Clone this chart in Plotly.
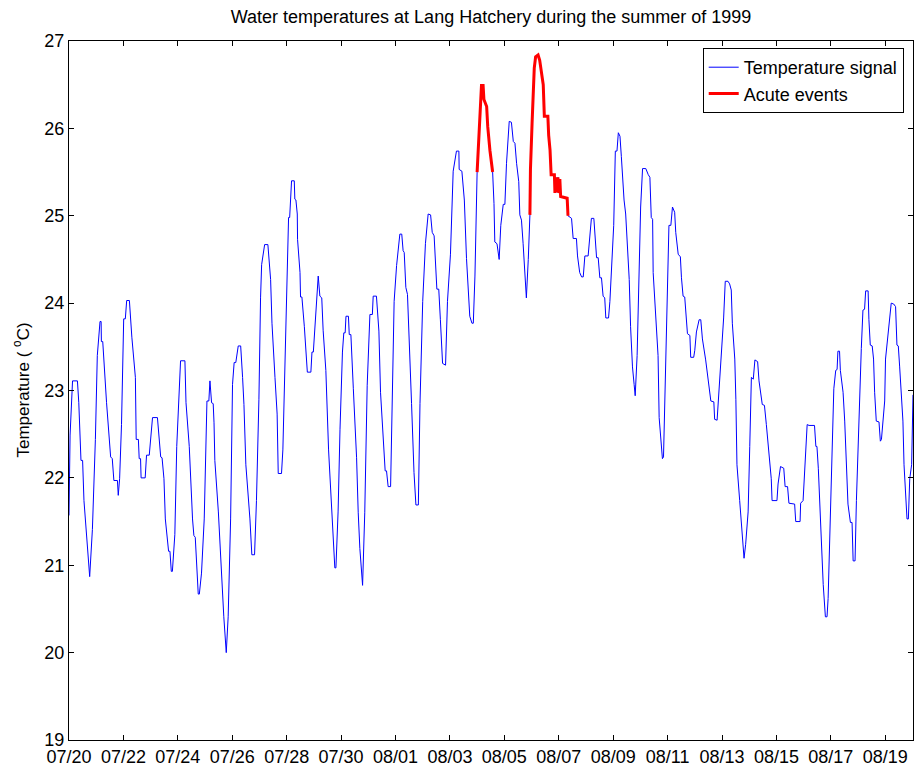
import plotly.graph_objs as go
import pandas as pd

# day offsets from 1999-07-20 00:00 and water temperature (deg C)
days = [
    0.00, 0.04, 0.13, 0.31, 0.36, 0.38, 0.44, 0.50, 0.55, 0.76, 0.86, 0.97, 1.04, 1.14, 1.18, 1.19, 1.24,
    1.38, 1.53, 1.59, 1.65, 1.78, 1.81, 1.86, 1.93, 2.01, 2.07, 2.12, 2.22, 2.31, 2.44, 2.47, 2.55, 2.58,
    2.63, 2.65, 2.80, 2.85, 2.95, 3.07, 3.25, 3.37, 3.42, 3.49, 3.54, 3.66, 3.71, 3.76, 3.80, 3.89, 3.96,
    4.10, 4.26, 4.30, 4.42, 4.54, 4.59, 4.64, 4.75, 4.79, 4.87, 4.97, 5.07, 5.14, 5.18, 5.24, 5.30, 5.33,
    5.36, 5.49, 5.61, 5.69, 5.78, 5.85, 5.94, 6.01, 6.07, 6.13, 6.22, 6.31, 6.38, 6.43, 6.50, 6.60, 6.65,
    6.72, 6.82, 6.89, 6.98, 7.04, 7.08, 7.19, 7.31, 7.41, 7.46, 7.57, 7.65, 7.69, 7.81, 7.86, 7.96, 8.02,
    8.07, 8.11, 8.18, 8.28, 8.30, 8.34, 8.39, 8.40, 8.49, 8.51, 8.56, 8.65, 8.76, 8.89, 8.93, 8.98, 9.06,
    9.16, 9.22, 9.29, 9.34, 9.44, 9.54, 9.65, 9.71, 9.77, 9.81, 9.89, 9.96, 10.05, 10.10, 10.15, 10.18,
    10.27, 10.30, 10.36, 10.45, 10.57, 10.63, 10.69, 10.79, 10.87, 10.96, 11.06, 11.15, 11.18, 11.30,
    11.39, 11.45, 11.55, 11.62, 11.67, 11.73, 11.82, 11.88, 11.95, 12.04, 12.10, 12.16, 12.23, 12.28,
    12.32, 12.38, 12.44, 12.51, 12.59, 12.68, 12.75, 12.84, 12.90, 13.00, 13.10, 13.20, 13.29, 13.35,
    13.42, 13.52, 13.59, 13.65, 13.73, 13.84, 13.91, 14.02, 14.12, 14.24, 14.33, 14.34, 14.44, 14.53,
    14.61, 14.73, 14.81, 14.86, 14.92, 15.00, 15.10, 15.16, 15.22, 15.25, 15.35, 15.39, 15.47, 15.57,
    15.62, 15.65, 15.73, 15.81, 15.87, 15.96, 16.02, 16.08, 16.18, 16.26, 16.33, 16.39, 16.45, 16.53,
    16.57, 16.63, 16.69, 16.78, 16.81, 16.88, 16.94, 16.96, 17.02, 17.06, 17.10, 17.15, 17.24, 17.30,
    17.36, 17.43, 17.47, 17.60, 17.63, 17.68, 17.72, 17.84, 17.86, 17.89, 17.93, 17.97, 18.00, 18.04,
    18.07, 18.31, 18.34, 18.47, 18.53, 18.65, 18.69, 18.77, 18.84, 18.90, 18.96, 19.08, 19.20, 19.29,
    19.39, 19.45, 19.51, 19.57, 19.63, 19.69, 19.73, 19.83, 19.88, 19.96, 20.02, 20.08, 20.14, 20.19,
    20.25, 20.30, 20.34, 20.40, 20.46, 20.51, 20.59, 20.64, 20.71, 20.77, 20.81, 20.88, 20.95, 21.01,
    21.08, 21.20, 21.29, 21.35, 21.40, 21.45, 21.47, 21.53, 21.59, 21.65, 21.69, 21.75, 21.81, 21.85,
    21.90, 21.98, 22.05, 22.12, 22.18, 22.26, 22.30, 22.39, 22.47, 22.51, 22.57, 22.63, 22.67, 22.73,
    22.82, 22.85, 22.96, 23.00, 23.06, 23.16, 23.22, 23.28, 23.40, 23.50, 23.59, 23.70, 23.73, 23.82,
    23.87, 23.98, 24.06, 24.12, 24.22, 24.28, 24.34, 24.38, 24.47, 24.51, 24.55, 24.65, 24.74, 24.81,
    24.87, 24.96, 25.02, 25.08, 25.15, 25.21, 25.31, 25.36, 25.48, 25.56, 25.63, 25.69, 25.81, 25.84,
    26.02, 26.06, 26.15, 26.27, 26.32, 26.41, 26.46, 26.67, 26.71, 26.87, 26.89, 26.98, 27.05, 27.13,
    27.20, 27.40, 27.45, 27.49, 27.54, 27.59, 27.64, 27.72, 27.80, 27.86, 27.90, 27.96, 28.03, 28.11,
    28.18, 28.23, 28.26, 28.32, 28.35, 28.45, 28.51, 28.57, 28.63, 28.72, 28.78, 28.82, 28.89, 28.94,
    29.00, 29.06, 29.12, 29.18, 29.24, 29.28, 29.37, 29.40, 29.45, 29.52, 29.57, 29.61, 29.67, 29.77,
    29.82, 29.86, 29.92, 29.98, 30.01, 30.08, 30.14, 30.22, 30.31, 30.38, 30.43, 30.48, 30.53, 30.59,
    30.65, 30.69, 30.75, 30.80, 30.85, 30.90, 30.97, 31.02,
]
temps = [
    21.57, 22.49, 23.11, 23.11, 22.86, 22.61, 22.20, 22.20, 21.74, 20.87, 21.41, 22.44, 23.40, 23.79, 23.79, 23.56, 23.56,
    22.86, 22.24, 22.22, 21.97, 21.97, 21.80, 21.99, 22.61, 23.82, 23.82, 24.03, 24.03, 23.61, 23.15, 22.44, 22.44, 22.22,
    22.22, 22.00, 22.00, 22.26, 22.26, 22.69, 22.69, 22.24, 22.23, 21.99, 21.53, 21.16, 21.16, 20.93, 20.93, 21.35, 22.36,
    23.34, 23.34, 22.86, 22.36, 21.53, 21.34, 21.32, 20.67, 20.67, 20.91, 21.53, 22.88, 22.88, 23.11, 22.86, 22.85, 22.63,
    22.20, 21.61, 20.83, 20.41, 20.00, 20.41, 21.53, 23.07, 23.32, 23.32, 23.51, 23.51, 23.15, 22.84, 22.15, 21.78, 21.53,
    21.12, 21.12, 21.74, 22.90, 24.06, 24.44, 24.67, 24.67, 24.27, 23.77, 23.15, 22.73, 22.05, 22.05, 22.32, 23.61, 24.31,
    24.98, 24.98, 25.40, 25.40, 25.19, 25.18, 25.02, 24.73, 24.35, 24.07, 24.07, 23.73, 23.21, 23.21, 23.44, 23.44, 23.85,
    24.31, 24.08, 24.06, 23.69, 23.23, 22.32, 21.74, 21.39, 20.97, 20.97, 21.61, 22.55, 23.44, 23.66, 23.66, 23.85,
    23.85, 23.64, 23.64, 23.02, 22.23, 21.60, 21.19, 20.77, 21.60, 23.06, 23.87, 23.87, 24.08, 24.08,
    23.68, 22.98, 22.44, 22.08, 22.08, 21.90, 21.90, 22.89, 24.02, 24.43, 24.62, 24.79, 24.79, 24.60,
    24.58, 24.18, 24.10, 23.60, 22.85, 22.06, 21.69, 21.69, 22.85, 24.02, 24.68, 25.02, 25.01, 24.81,
    24.77, 24.16, 24.16, 23.81, 23.31, 23.29, 24.02, 24.56, 25.51, 25.74, 25.74, 25.53, 25.51, 25.18,
    24.51, 23.85, 23.77, 23.77, 24.31, 25.50, 26.06, 26.49, 26.49, 26.33, 26.25, 26.02, 25.75, 25.50,
    25.14, 24.70, 24.68, 24.50, 24.89, 25.13, 25.13, 25.60, 26.08, 26.07, 25.85, 25.83, 25.60, 25.39,
    25.01, 24.95, 24.68, 24.10, 24.06, 24.50, 25.01, 25.53, 26.06, 26.48, 26.69, 26.82, 26.84, 26.78,
    26.64, 26.50, 26.14, 26.14, 25.92, 25.75, 25.47, 25.47, 25.26, 25.44, 25.27, 25.44, 25.26, 25.42,
    25.22, 25.20, 25.00, 24.97, 24.74, 24.74, 24.54, 24.35, 24.30, 24.30, 24.54, 24.54, 24.97, 24.97,
    24.52, 24.52, 24.29, 24.29, 24.08, 24.06, 23.83, 23.83, 24.02, 24.52, 24.89, 25.74, 25.74, 25.95,
    25.91, 25.68, 25.47, 25.18, 25.02, 24.68, 24.27, 23.73, 23.27, 23.07, 22.94, 23.40, 24.23, 25.10,
    25.54, 25.54, 25.47, 25.44, 24.98, 24.96, 24.35, 24.02, 23.81, 23.40, 22.69, 22.49, 22.22, 22.24,
    22.94, 24.23, 24.89, 24.89, 25.10, 25.04, 24.81, 24.56, 24.53, 24.29, 24.08, 24.07, 23.90, 23.65,
    23.63, 23.38, 23.38, 23.46, 23.67, 23.81, 23.81, 23.59, 23.35, 23.13, 22.88, 22.87, 22.67, 22.66,
    22.88, 23.40, 23.83, 24.25, 24.25, 24.22, 24.15, 23.77, 23.36, 22.90, 22.15, 21.74, 21.41, 21.08,
    21.24, 21.61, 22.36, 23.15, 23.13, 23.35, 23.33, 23.11, 22.84, 22.83, 22.61, 22.40, 21.99, 21.74,
    21.74, 21.93, 22.13, 22.11, 21.90, 21.90, 21.71, 21.70, 21.50, 21.50, 21.71, 21.74, 22.15, 22.61,
    22.60, 22.60, 22.36, 22.36, 22.11, 21.74, 21.24, 20.78, 20.41, 20.41, 20.62, 21.32, 22.15, 23.02,
    23.23, 23.24, 23.45, 23.45, 23.23, 22.98, 22.65, 22.15, 21.70, 21.49, 21.49, 21.05, 21.05, 21.74,
    22.36, 22.78, 23.48, 23.92, 23.93, 24.14, 24.14, 23.81, 23.52, 23.51, 23.36, 22.98, 22.65, 22.64,
    22.42, 22.44, 22.69, 22.88, 23.36, 23.56, 23.77, 24.00, 23.99, 23.96, 23.52, 23.51, 23.27, 22.98,
    22.65, 22.15, 21.70, 21.53, 21.53, 21.99, 22.15, 22.95,
]

# acute events (red segments)
event1_days = [15.00, 15.10, 15.16, 15.22, 15.25, 15.35, 15.39, 15.47, 15.57]
event1_temps = [25.50, 26.06, 26.49, 26.49, 26.33, 26.25, 26.02, 25.75, 25.50]
event2_days = [16.94, 16.96, 17.02, 17.06, 17.10, 17.15, 17.24, 17.30, 17.36, 17.43, 17.47, 17.60,
               17.63, 17.68, 17.72, 17.84, 17.86, 17.89, 17.93, 17.97, 18.00, 18.04, 18.07, 18.31, 18.34]
event2_temps = [25.01, 25.53, 26.06, 26.48, 26.69, 26.82, 26.84, 26.78, 26.64, 26.50, 26.14, 26.14,
                25.92, 25.75, 25.47, 25.47, 25.26, 25.44, 25.27, 25.44, 25.26, 25.42, 25.22, 25.20, 25.00]

start = pd.Timestamp("1999-07-20")


def to_time(d):
    return start + pd.to_timedelta(d, unit="D")


FONT = "Liberation Sans, Arial, sans-serif"

fig = go.Figure()
fig.add_trace(go.Scatter(
    x=to_time(days), y=temps, mode="lines",
    line=dict(color="#0000ff", width=1),
    name="Temperature signal"
))
# both events share one legend entry
fig.add_trace(go.Scatter(
    x=to_time(event1_days), y=event1_temps, mode="lines",
    line=dict(color="#ff0000", width=3),
    name="Acute events", legendgroup="acute"
))
fig.add_trace(go.Scatter(
    x=to_time(event2_days), y=event2_temps, mode="lines",
    line=dict(color="#ff0000", width=3),
    name="Acute events", legendgroup="acute", showlegend=False
))

fig.update_layout(
    width=914, height=768,
    margin=dict(l=69, r=1, t=41, b=28),
    paper_bgcolor="white", plot_bgcolor="white",
    font=dict(family=FONT, size=18, color="black"),
    title=dict(
        text="Water temperatures at Lang Hatchery during the summer of 1999",
        x=(69 + 913) / 2 / 914, xanchor="center",
        y=1 - 17 / 768, yanchor="middle", yref="container",
        font=dict(family=FONT, size=18, color="black"),
    ),
    showlegend=True,
    legend=dict(
        x=0.989, y=0.99, xanchor="right", yanchor="top",
        bordercolor="black", borderwidth=1, bgcolor="white",
        font=dict(family=FONT, size=18, color="black"),
        tracegroupgap=0,
    ),
    xaxis=dict(
        type="date",
        range=[start, to_time(31.02)],
        tick0="1999-07-20", dtick=2 * 86400000, tickformat="%m/%d",
        ticks="inside", ticklen=5, tickcolor="black",
        tickfont=dict(family=FONT, size=18, color="black"),
        showline=True, linecolor="black", linewidth=1, mirror="ticks",
        showgrid=False, zeroline=False,
    ),
    yaxis=dict(
        range=[19, 27], dtick=1,
        ticks="inside", ticklen=5, tickcolor="black",
        tickfont=dict(family=FONT, size=18, color="black"),
        showline=True, linecolor="black", linewidth=1, mirror="ticks",
        showgrid=False, zeroline=False,
    ),
    annotations=[dict(
        text="Temperature ( <sup>o</sup>C)",
        x=0, xref="paper", y=0.5, yref="paper",
        xanchor="center", yanchor="middle", xshift=-48,
        textangle=-90, showarrow=False,
        font=dict(family=FONT, size=17, color="black"),
    )],
)

# the page has an 8px default body margin; drop it so the figure sits at 0,0
fig.write_html(
    "out.html",
    config={"displayModeBar": False},
    post_script="document.body.style.margin='0';",
)
